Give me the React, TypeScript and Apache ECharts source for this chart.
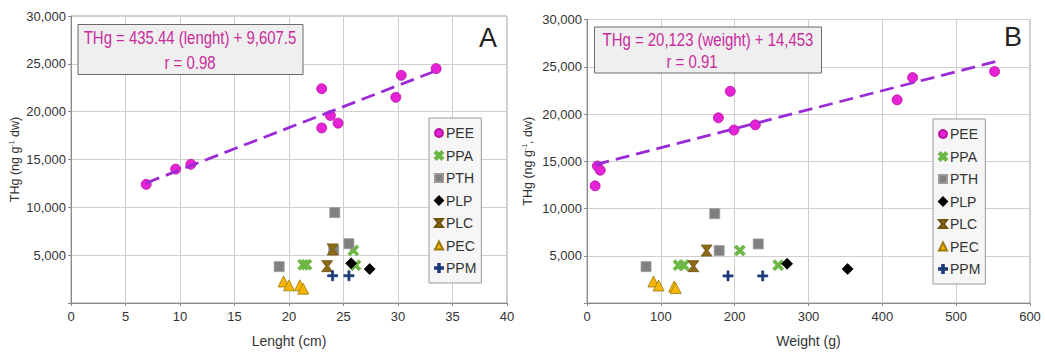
import React, { useEffect, useRef } from "react";
import * as echarts from "echarts";

const seriesNames = ["PEE", "PPA", "PTH", "PLP", "PLC", "PEC", "PPM"];

// Panel A: length (cm) vs THg
const peeA = [[6.9, 12400], [9.6, 14000], [11, 14500], [23, 22400], [23, 18300], [23.8, 19600], [24.5, 18800], [29.8, 21500], [30.3, 23800], [33.5, 24500]];
const ppaA = [[21.3, 4000], [21.6, 4000], [25.9, 5500], [26.1, 3950]];
const pthA = [[19.1, 3800], [24.2, 9450], [24.1, 5550], [25.5, 6200]];
const plpA = [[25.7, 4150], [27.4, 3550]];
const plcA = [[24, 5600], [23.5, 3850]];
const pecA = [[19.5, 2250], [20, 1850], [21, 1850], [21.3, 1500]];
const ppmA = [[24, 2850], [25.5, 2850]];
const fitA = [[6.9, 12550], [33.2, 24150]];

// Panel B: weight (g) vs THg
const peeB = [[11, 12400], [14, 14500], [18, 14050], [178, 19600], [194, 22400], [199, 18300], [228, 18850], [420, 21500], [441, 23850], [552, 24500]];
const ppaB = [[124, 4000], [131, 4000], [207, 5550], [259, 4000]];
const pthB = [[80, 3850], [173, 9450], [179, 5550], [232, 6250]];
const plpB = [[271, 4150], [353, 3600]];
const plcB = [[162, 5550], [144, 3900]];
const pecB = [[90, 2280], [97, 1850], [118, 1750], [120, 1580]];
const ppmB = [[191, 2870], [238, 2870]];
const fitB = [[11.4, 14640], [554, 25570]];

const xTicksA = { min: 0, max: 40, interval: 5 };
const xTicksB = { min: 0, max: 600, interval: 100 };
const yTicks = { min: 0, max: 30000, interval: 5000 };

const eqA = ["THg = 435.44 (lenght) + 9,607.5", "r = 0.98"];
const eqB = ["THg = 20,123 (weight) + 14,453", "r = 0.91"];

const symbols: Record<string, any> = {
  PEE: { symbol: "circle", size: 10, color: "#e522d6", border: "#b5139f" },
  PPA: { symbol: "path://M0,2L2,0L5,3L8,0L10,2L7,5L10,8L8,10L5,7L2,10L0,8L3,5Z", size: 11, color: "#6cb644", border: "#6cb644" },
  PTH: { symbol: "rect", size: 10, color: "#808080", border: "#9a9a9a" },
  PLP: { symbol: "diamond", size: 11, color: "#000000", border: "#000000" },
  PLC: { symbol: "path://M0,0H10L6.2,5L10,10H0L3.8,5Z", size: 11, color: "#8c6a16", border: "#6e520e" },
  PEC: { symbol: "triangle", size: 11, color: "#f4b600", border: "#9a7a10" },
  PPM: { symbol: "path://M4,0H6V4H10V6H6V10H4V6H0V4H4Z", size: 10, color: "#1c3a78", border: "#1c3a78" },
};

const dataA = [peeA, ppaA, pthA, plpA, plcA, pecA, ppmA];
const dataB = [peeB, ppaB, pthB, plpB, plcB, pecB, ppmB];

const FONT = "'Liberation Sans', Arial, sans-serif";

function App() {
  const ref = useRef<HTMLDivElement>(null);
  useEffect(() => {
    if (!ref.current) return;
    const chart = echarts.init(ref.current, undefined, { renderer: "svg" });
    const yFmt = (v: number) => (v === 0 ? "" : v.toLocaleString("en-US"));
    const axisCommon = {
      axisLine: { show: true, lineStyle: { color: "#8a8a8a", width: 1 } },
      axisTick: { show: true, length: 3, lineStyle: { color: "#8a8a8a" } },
      splitLine: { show: true, lineStyle: { color: "#cfcfcf", width: 1 } },
    };
    const nameRich = {
      sup: { fontSize: 7, verticalAlign: "top", lineHeight: 8, fontFamily: FONT, color: "#333" },
    };
    const makeScatter = (data: number[][][], idx: number) =>
      seriesNames.map((n, i) => ({
        name: n,
        type: "scatter",
        xAxisIndex: idx,
        yAxisIndex: idx,
        symbol: symbols[n].symbol,
        symbolSize: symbols[n].size,
        itemStyle: { color: symbols[n].color, borderColor: symbols[n].border, borderWidth: 0.8, opacity: 1 },
        data: data[i],
        z: 3,
      }));
    const makeFit = (data: number[][], idx: number) => ({
      type: "line",
      xAxisIndex: idx,
      yAxisIndex: idx,
      data,
      symbol: "none",
      lineStyle: { color: "#9a2bd6", width: 2.8, type: [14, 7] },
      z: 4,
      silent: true,
    });
    const legendCommon = {
      orient: "vertical",
      data: seriesNames,
      itemWidth: 8,
      itemHeight: 8,
      itemGap: 8.5,
      padding: [8, 5, 8, 5],
      backgroundColor: "#f6f6f6",
      borderColor: "#9a9a9a",
      borderWidth: 1,
      borderRadius: 0,
      textStyle: { fontSize: 14, color: "#333", fontFamily: FONT, padding: [0, 0, 0, -2] },
      selectedMode: false,
    };
    const eqText = (x: number, y: number, t: string) => ({
      type: "text", x, y, scaleX: 0.83, z: 11,
      style: { text: t, fill: "#c92c9c", fontSize: 18, fontFamily: FONT, align: "center", verticalAlign: "middle" },
    });
    chart.setOption({
      animation: false,
      textStyle: { fontFamily: FONT },
      grid: [
        { left: 71, top: 16, width: 436, height: 288, show: true, borderColor: "#a0a0a0", borderWidth: 1, backgroundColor: "transparent" },
        { left: 587, top: 19.5, width: 443, height: 285.5, show: true, borderColor: "#a0a0a0", borderWidth: 1, backgroundColor: "transparent" },
      ],
      xAxis: [
        {
          type: "value", gridIndex: 0, ...xTicksA, ...axisCommon,
          name: "Lenght (cm)", nameLocation: "middle", nameGap: 31,
          nameTextStyle: { fontSize: 14, color: "#333" },
          axisLabel: { fontSize: 13, color: "#333", margin: 7 },
        },
        {
          type: "value", gridIndex: 1, ...xTicksB, ...axisCommon,
          name: "Weight (g)", nameLocation: "middle", nameGap: 31,
          nameTextStyle: { fontSize: 14, color: "#333" },
          axisLabel: { fontSize: 13, color: "#333", margin: 7 },
        },
      ],
      yAxis: [
        {
          type: "value", gridIndex: 0, ...yTicks, ...axisCommon,
          name: "THg (ng g{sup|-1} dw)", nameLocation: "middle", nameGap: 50,
          nameTextStyle: { fontSize: 12.5, color: "#333", rich: nameRich },
          axisLabel: { fontSize: 13, color: "#333", margin: 5, formatter: yFmt },
        },
        {
          type: "value", gridIndex: 1, ...yTicks, ...axisCommon,
          name: "THg (ng g{sup|-1}, dw)", nameLocation: "middle", nameGap: 53,
          nameTextStyle: { fontSize: 12.5, color: "#333", rich: nameRich },
          axisLabel: { fontSize: 13, color: "#333", margin: 5, formatter: yFmt },
        },
      ],
      legend: [
        { ...legendCommon, left: 429, top: 118 },
        { ...legendCommon, left: 933, top: 119 },
      ],
      series: [...makeScatter(dataA, 0), makeFit(fitA, 0), ...makeScatter(dataB, 1), makeFit(fitB, 1)],
      graphic: [
        { type: "rect", shape: { x: 78, y: 24.5, width: 225, height: 50 }, style: { fill: "#efefef", stroke: "#6a6a6a", lineWidth: 1 }, z: 10 },
        eqText(190, 38, eqA[0]),
        eqText(190, 63, eqA[1]),
        { type: "text", x: 488, y: 38, style: { text: "A", fill: "#222", fontSize: 27, fontFamily: FONT, align: "center", verticalAlign: "middle" }, z: 11 },
        { type: "rect", shape: { x: 594.5, y: 27, width: 227, height: 46 }, style: { fill: "#efefef", stroke: "#6a6a6a", lineWidth: 1 }, z: 10 },
        eqText(708, 40, eqB[0]),
        eqText(692, 62, eqB[1]),
        { type: "text", x: 1013, y: 37, style: { text: "B", fill: "#222", fontSize: 27, fontFamily: FONT, align: "center", verticalAlign: "middle" }, z: 11 },
      ],
    });
    return () => chart.dispose();
  }, []);
  return <div ref={ref} style={{ position: "fixed", left: 0, top: 0, width: 1045, height: 353, background: "#fff" }} />;
}

export default App;
